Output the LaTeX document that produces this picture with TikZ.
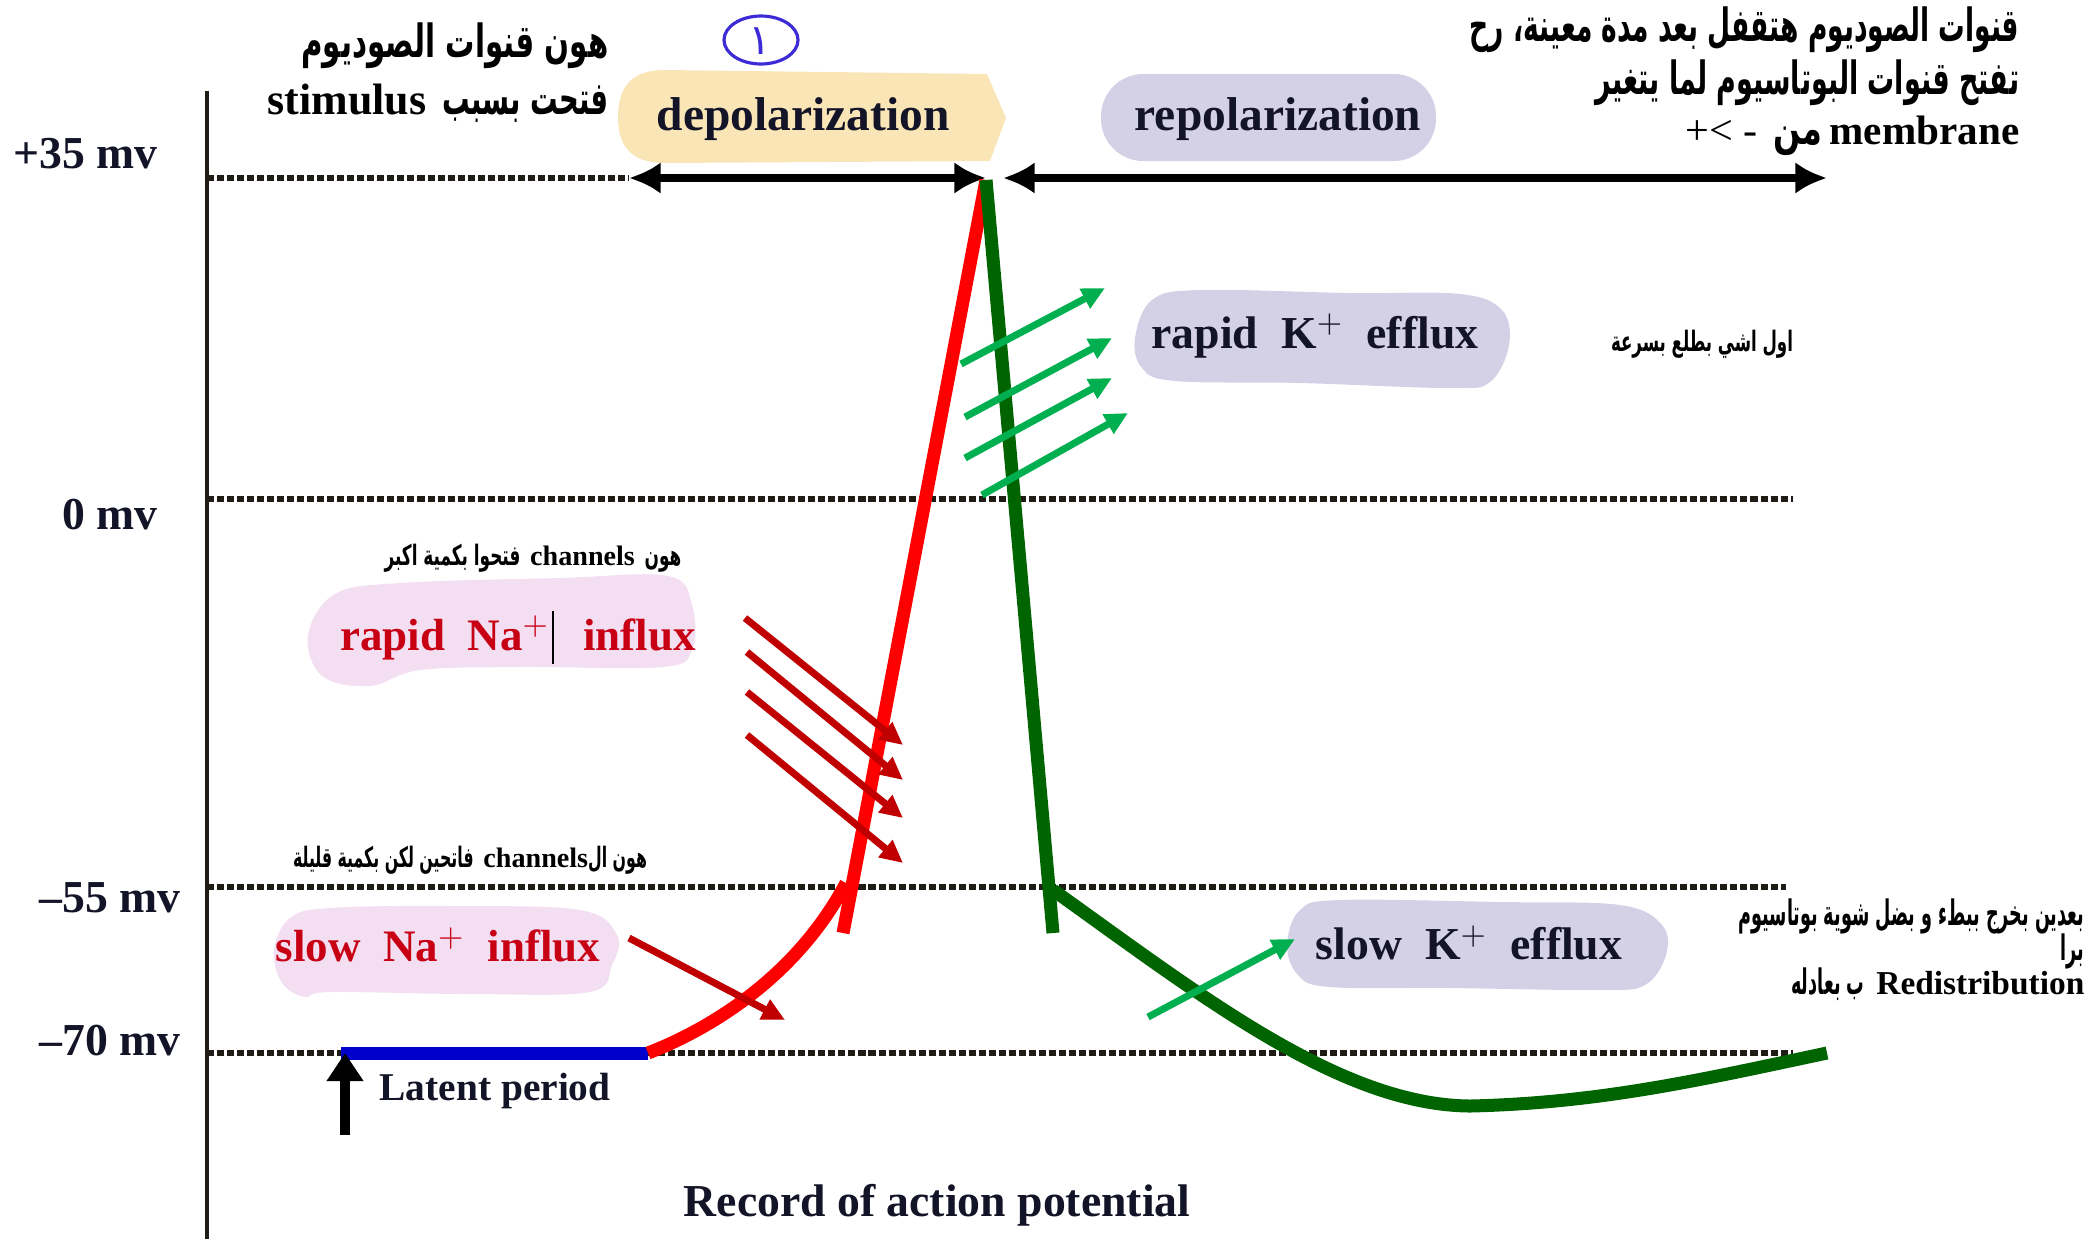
\documentclass[tikz,border=0pt]{standalone}
\usepackage{fontspec}
\usepackage{graphicx}
\setmainfont{Liberation Serif}
\newfontfamily\arabicfont[Script=Arabic]{DejaVu Sans}
\newfontfamily\latb{Liberation Serif}
\TeXXeTstate=1
\usetikzlibrary{arrows.meta}
\newcommand{\artext}[2][0.6]{\scalebox{#1}[1]{\beginR #2\endR}}
\definecolor{txtdark}{RGB}{20,20,40}
\definecolor{dotcol}{RGB}{30,28,20}
\definecolor{nared}{RGB}{200,0,20}
\definecolor{pinkfill}{RGB}{243,222,242}
\definecolor{lavfill}{RGB}{212,208,230}
\definecolor{yelfill}{RGB}{250,229,183}
\definecolor{arrred}{RGB}{192,0,0}
\definecolor{arrgreen}{RGB}{0,176,80}
\definecolor{curvegreen}{RGB}{0,100,0}
\definecolor{curvered}{RGB}{255,0,0}
\definecolor{latblue}{RGB}{0,0,204}
\definecolor{penblue}{RGB}{60,43,214}
\begin{document}
\begin{tikzpicture}[x=0.01cm,y=-0.01cm,
  lbl/.style={font=\fontsize{13}{15}\selectfont\bfseries, text=txtdark, inner sep=0pt},
  nalbl/.style={font=\fontsize{12.8}{15}\selectfont\bfseries, text=nared, inner sep=0pt},
  arab/.style={font=\arabicfont\bfseries\fontsize{13}{16}\selectfont, text=black, inner sep=0pt},
  arabsmall/.style={font=\arabicfont\bfseries\fontsize{8}{10}\selectfont, text=black, inner sep=0pt},
  arabmid/.style={font=\arabicfont\bfseries\fontsize{10}{12}\selectfont, text=black, inner sep=0pt},
  dotline/.style={line width=1.6pt, dotcol, dash pattern=on 2pt off 0.85pt},
  thickcurve/.style={line width=3.7pt},
  ionarrow/.style={line width=2pt, -{Triangle[length=6.5pt,width=6pt]}},
  phasearrow/.style={line width=2.3pt, {Latex[length=9pt,width=9pt]}-{Latex[length=9pt,width=9pt]}}
]
\useasboundingbox (0,0) rectangle (2098,1239);

% ---- bubbles (backgrounds) ----
\fill[yelfill] (987,74) -- (1006,118) -- (990,161) -- (665,163)
  .. controls (630,163) and (618,145) .. (618,118)
  .. controls (618,88) and (630,70) .. (665,70) -- cycle;
\fill[lavfill, rounded corners=12pt] (1101,74) rectangle (1436,161);
\fill[lavfill] plot[smooth cycle, tension=0.6] coordinates {(1135,338) (1152,300) (1200,290) (1350,293) (1460,294) (1502,310) (1509,345) (1490,382) (1450,388) (1300,383) (1175,381) (1142,368)};
\fill[pinkfill] plot[smooth cycle, tension=0.6] coordinates {(308,635) (335,594) (400,583) (560,578) (668,576) (692,605) (692,650) (662,667) (520,667) (420,670) (370,686) (322,676)};
\fill[pinkfill] plot[smooth cycle, tension=0.6] coordinates {(274,950) (290,918) (330,908) (450,906) (580,910) (617,935) (612,965) (590,992) (470,994) (330,992) (305,997) (282,983)};
\fill[lavfill] plot[smooth cycle, tension=0.6] coordinates {(1287,945) (1300,910) (1340,900) (1500,902) (1620,905) (1662,925) (1666,955) (1645,985) (1600,990) (1450,988) (1330,987) (1298,975)};

% ---- axis and dotted levels ----
\coordinate (axtop) at (207,91);
\coordinate (axbot) at (207,1239);
\draw[line width=1.2pt, dotcol] (axtop) -- (axbot);
\coordinate (l35a) at (207,178);  \coordinate (l35b) at (629,178);
\coordinate (l0a) at (207,499);   \coordinate (l0b) at (1793,499);
\coordinate (l55a) at (207,887);  \coordinate (l55b) at (1786,887);
\coordinate (l70a) at (207,1053); \coordinate (l70b) at (1793,1053);
\draw[dotline] (l35a) -- (l35b);
\draw[dotline] (l0a) -- (l0b);
\draw[dotline] (l55a) -- (l55b);
\draw[dotline] (l70a) -- (l70b);

% ---- axis labels ----
\node[lbl, anchor=east] (v35) at (158,154) {+35 mv};
\node[lbl, anchor=east] (v0) at (158,515) {0 mv};
\node[lbl, anchor=east] (v55) at (181,898) {--55 mv};
\node[lbl, anchor=east] (v70) at (181,1040) {--70 mv};

% ---- phase arrows ----
\coordinate (dep1) at (629,178);
\coordinate (peakL) at (986,178);
\coordinate (peakR) at (1003,178);
\coordinate (rep2) at (1827,178);
\draw[phasearrow] (dep1) -- (peakL);
\draw[phasearrow] (peakR) -- (rep2);
\node[lbl, font=\fontsize{13.5}{15}\selectfont\bfseries] (depol) at (803,119) {depolarization};
\node[lbl, font=\fontsize{13.5}{15}\selectfont\bfseries] (repol) at (1278,119) {repolarization};

% ---- potential trace ----
\coordinate (rest) at (341,1053);
\coordinate (stim) at (648,1053);
\coordinate (thr) at (846,883);
\coordinate (rise0) at (843,933);
\coordinate (peak) at (986,180);
\coordinate (fall0) at (1053,933);
\coordinate (fall1) at (1053,890);
\coordinate (hyp) at (1470,1106);
\coordinate (endp) at (1827,1053);
\draw[thickcurve, latblue] (rest) -- (stim);
\draw[thickcurve, curvered] (stim) .. controls (720,1025) and (800,970) .. (thr);
\draw[thickcurve, curvered] (rise0) -- (peak);
\draw[thickcurve, curvegreen] (peak) -- (fall0);
\draw[thickcurve, curvegreen] (fall1) .. controls (1200,995) and (1340,1105) .. (hyp)
  .. controls (1600,1103) and (1700,1080) .. (endp);

% ---- latent period ----
\coordinate (lat0) at (345,1135);
\coordinate (lat1) at (345,1053);
\draw[line width=2.8pt, -{Triangle[length=8pt,width=10pt]}] (lat0) -- (lat1);
\node[lbl, font=\fontsize{11.2}{13}\selectfont\bfseries, anchor=west] (latent) at (379,1091) {Latent period};

% ---- ion arrows ----
\coordinate (sna0) at (629,938); \coordinate (sna1) at (785,1020);
\draw[ionarrow, arrred] (sna0) -- (sna1);
\coordinate (rn1a) at (745,618); \coordinate (rn1b) at (903,745);
\coordinate (rn2a) at (747,652); \coordinate (rn2b) at (903,780);
\coordinate (rn3a) at (747,692); \coordinate (rn3b) at (903,818);
\coordinate (rn4a) at (747,735); \coordinate (rn4b) at (903,863);
\draw[ionarrow, arrred] (rn1a) -- (rn1b);
\draw[ionarrow, arrred] (rn2a) -- (rn2b);
\draw[ionarrow, arrred] (rn3a) -- (rn3b);
\draw[ionarrow, arrred] (rn4a) -- (rn4b);
\coordinate (rk1a) at (961,364); \coordinate (rk1b) at (1105,288);
\coordinate (rk2a) at (965,417); \coordinate (rk2b) at (1112,338);
\coordinate (rk3a) at (965,458); \coordinate (rk3b) at (1112,378);
\coordinate (rk4a) at (982,495); \coordinate (rk4b) at (1128,413);
\draw[ionarrow, arrgreen] (rk1a) -- (rk1b);
\draw[ionarrow, arrgreen] (rk2a) -- (rk2b);
\draw[ionarrow, arrgreen] (rk3a) -- (rk3b);
\draw[ionarrow, arrgreen] (rk4a) -- (rk4b);
\coordinate (sk0) at (1148,1017); \coordinate (sk1) at (1295,939);
\draw[ionarrow, arrgreen] (sk0) -- (sk1);

% ---- bubble texts ----
\node[lbl] (rapidK) at (1315,336) {rapid\ \ K$^{+}$\ \ efflux};
\node[nalbl] (rapidNa) at (518,638) {rapid\ \ Na$^{+}$\ \ \ influx};
\coordinate (curs0) at (553,611); \coordinate (curs1) at (553,664);
\draw[line width=0.6pt, black] (curs0) -- (curs1);
\node[nalbl] (slowNa) at (438,945) {slow\ \ Na$^{+}$\ \ influx};
\node[lbl] (slowK) at (1469,943) {slow\ \ K$^{+}$\ \ efflux};

\node[lbl] (record) at (937,1205) {Record of action potential};

% ---- handwritten mark ----
\draw[penblue, line width=0.9pt] (761,40) ellipse [x radius=37, y radius=24];
\node[inner sep=0pt, text=penblue, font=\arabicfont\fontsize{12}{13}\selectfont] (one) at (760,41) {١};

% ---- Arabic notes ----
\node[arab, anchor=east] (tl1) at (609,46) {\artext[0.64]{هون قنوات الصوديوم}};
\node[arab, anchor=east] (tl2) at (609,103) {{\latb\bfseries\fontsize{12.5}{15}\selectfont stimulus} \artext{فتحت بسبب}};

\node[arab, anchor=east] (tr1) at (2020,30) {\artext[0.58]{قنوات الصوديوم هتقفل بعد مدة معينة، رح}};
\node[arab, anchor=east] (tr2) at (2020,83) {\artext[0.59]{تفتح قنوات البوتاسيوم لما يتغير}};
\node[arab, anchor=east] (tr3) at (2020,136) {{\latb\mdseries\fontsize{12}{14}\selectfont +< -}\ \artext[0.7]{من}\,{\latb\bfseries\fontsize{11.7}{14}\selectfont membrane}};

\node[arabsmall] (fastup) at (1702,344) {\artext[0.59]{اول اشي بطلع بسرعة}};
\node[arabsmall] (openmore) at (533,558) {\artext{فتحوا بكمية اكبر} {\latb\bfseries channels} \artext{هون}};
\node[arabsmall] (openless) at (470,860) {\artext[0.56]{فاتحين لكن بكمية قليلة} {\latb\bfseries channels}\artext[0.56]{هون ال}};

\node[arabmid, anchor=east] (br1) at (2085,916) {\artext[0.5]{بعدين بخرج ببطء و بضل شوية بوتاسيوم}};
\node[arabmid, anchor=east] (br2) at (2085,951) {\artext[0.5]{برا}};
\node[arabmid, anchor=east] (br3) at (2085,984) {\artext[0.5]{بعادله}\,\artext[0.5]{ب} {\latb\bfseries\fontsize{9.5}{12}\selectfont Redistribution}};
\end{tikzpicture}
\end{document}
